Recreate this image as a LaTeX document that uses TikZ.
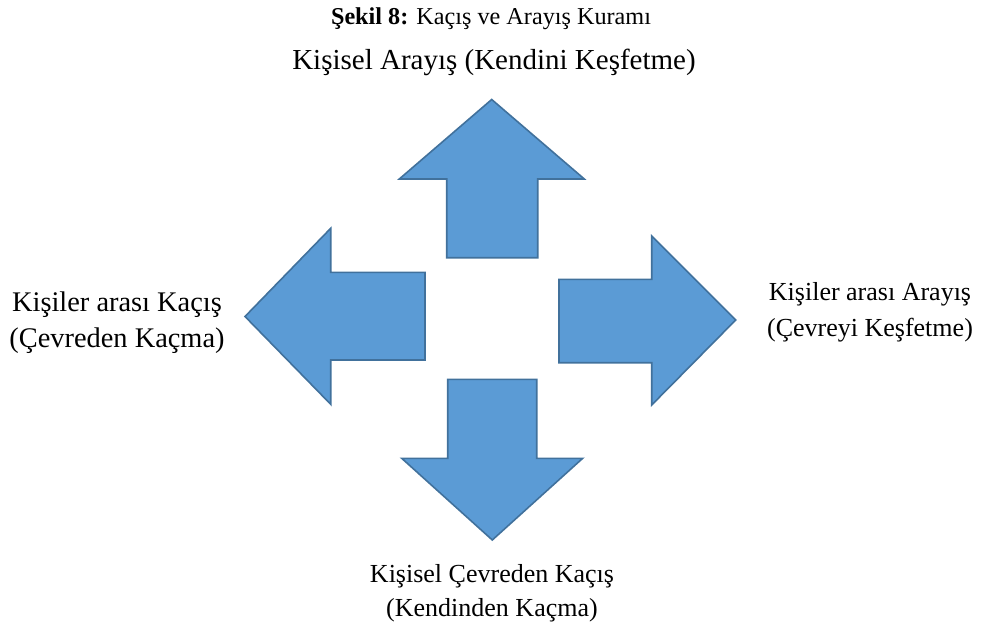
\documentclass[tikz,border=0pt]{standalone}
\usepackage{fontspec}
\setmainfont{Liberation Serif}
\definecolor{arrowfill}{HTML}{5B9BD5}
\definecolor{arrowline}{HTML}{41719C}
\begin{document}
\begin{tikzpicture}[x=1pt,y=-1pt,
  bigarrow/.style={fill=arrowfill,draw=arrowline,line width=1.6pt,line join=miter},
  lbl/.style={anchor=base,inner sep=0pt,font=\fontsize{26}{30}\selectfont},
  lblbig/.style={anchor=base,inner sep=0pt,font=\fontsize{28.4}{32}\selectfont},
  sub/.style={anchor=base,inner sep=0pt,font=\fontsize{29}{34}\selectfont},
  ttl/.style={anchor=base,inner sep=0pt,font=\fontsize{24.2}{28}\selectfont}]
\useasboundingbox (0,0) rectangle (984,626);
% up arrow
\draw[bigarrow] (491.7,99.5) -- (584.3,179) -- (537.7,179) -- (537.7,257.7)
  -- (446.7,257.7) -- (446.7,179) -- (399.3,179) -- cycle;
% left arrow
\draw[bigarrow] (245,316.5) -- (330.7,228.3) -- (330.7,272.3) -- (425,272.3)
  -- (425,360) -- (330.7,360) -- (330.7,404.3) -- cycle;
% right arrow
\draw[bigarrow] (735.7,320) -- (651.7,236) -- (651.7,279.3) -- (559,279.3)
  -- (559,362.7) -- (651.7,362.7) -- (651.7,405) -- cycle;
% down arrow
\draw[bigarrow] (492.3,540) -- (582.7,458.3) -- (536.7,458.3) -- (536.7,379.3)
  -- (447.7,379.3) -- (447.7,458.3) -- (401.7,458.3) -- cycle;
% texts
\node[ttl] (title) at (491,25) {\textbf{Şekil 8:} Kaçış ve Arayış Kuramı};
\node[sub] (top) at (494,69) {Kişisel Arayış (Kendini Keşfetme)};
\node[lblbig] (left1) at (117,311) {Kişiler arası Kaçış};
\node[lblbig] (left2) at (117,347) {(Çevreden Kaçma)};
\node[lbl] (right1) at (870,300) {Kişiler arası Arayış};
\node[lbl] (right2) at (870,336) {(Çevreyi Keşfetme)};
\node[lbl] (bot1) at (492,582) {Kişisel Çevreden Kaçış};
\node[lbl] (bot2) at (492,616) {(Kendinden Kaçma)};
\end{tikzpicture}
\end{document}
